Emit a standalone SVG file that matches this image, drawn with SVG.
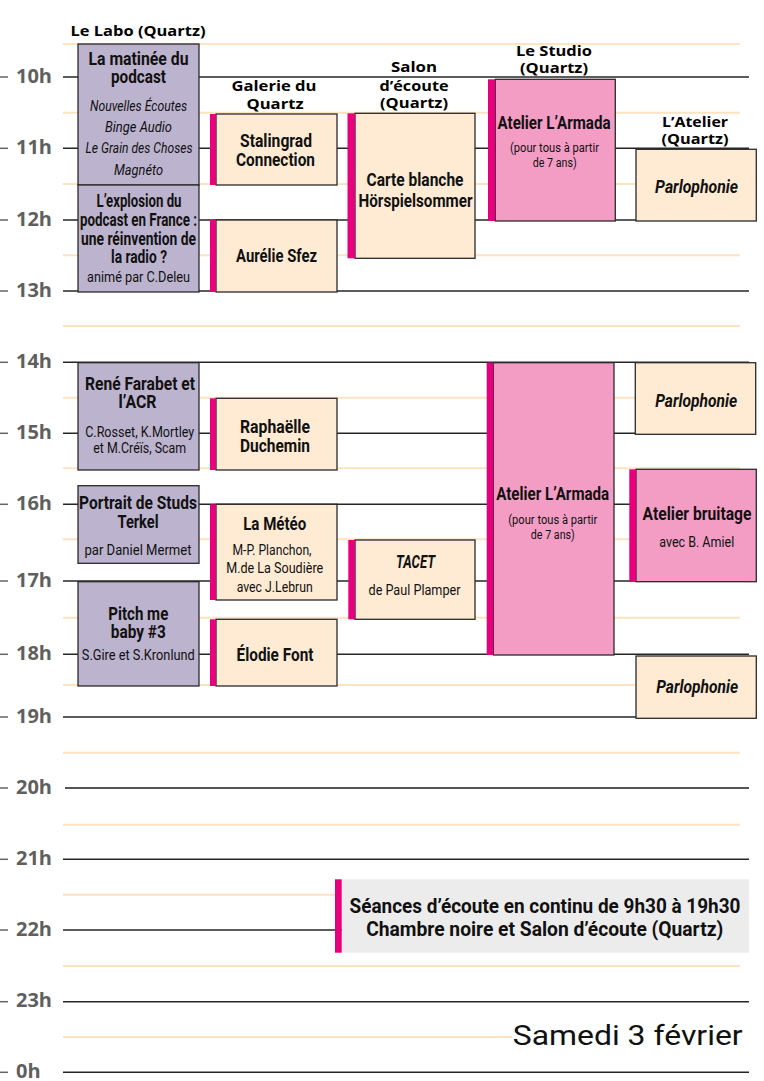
<svg xmlns="http://www.w3.org/2000/svg" width="764" height="1081" viewBox="0 0 764 1081">
<style>
.bg{fill:#fff}
.hl{stroke:#262626;stroke-width:1.4}
.hl2{stroke:#555;stroke-width:1.8}
.hh{stroke:#FDE3C2;stroke-width:2}
.tick{stroke:#666;stroke-width:1.5}
.hr{font-family:"Open Sans","DejaVu Sans",sans-serif;font-weight:bold;font-size:20px;fill:#5f5f5f}
.hdr{font-family:"Open Sans","DejaVu Sans",sans-serif;font-weight:bold;font-size:15px;fill:#000;text-anchor:middle}
.lav{fill:#BCB3CE;stroke:#2a2a2a;stroke-width:1.3}
.pch{fill:#FFEBD4;stroke:#2a2a2a;stroke-width:1.3}
.pnk{fill:#F39DC5;stroke:#2a2a2a;stroke-width:1.3}
.bar{fill:#E6007E}
.gry{fill:#ECECEC}
.t{font-family:Roboto,"Liberation Sans",sans-serif;text-anchor:middle;fill:#111}
.b{font-weight:bold;font-size:18px}
.bi{font-weight:bold;font-style:italic;font-size:18px}
.i{font-style:italic;font-size:15px}
.r{font-size:15px}
.s{font-size:12.5px}
.big{font-weight:bold;font-size:21px}
.date{font-family:Roboto,"Liberation Sans",sans-serif;font-size:28px;fill:#111}
</style>
<rect class="bg" x="0" y="0" width="764" height="1081"/>
<g id="grid">
<line class="hh" x1="63" y1="44" x2="740" y2="44"/>
<line class="hh" x1="63" y1="112.7" x2="740" y2="112.7"/>
<line class="hh" x1="63" y1="184" x2="740" y2="184"/>
<line class="hh" x1="63" y1="255.3" x2="740" y2="255.3"/>
<line class="hh" x1="63" y1="326" x2="740" y2="326"/>
<line class="hh" x1="63" y1="397.7" x2="740" y2="397.7"/>
<line class="hh" x1="63" y1="468.3" x2="740" y2="468.3"/>
<line class="hh" x1="63" y1="539.3" x2="740" y2="539.3"/>
<line class="hh" x1="63" y1="617.7" x2="740" y2="617.7"/>
<line class="hh" x1="63" y1="685" x2="740" y2="685"/>
<line class="hh" x1="63" y1="752.7" x2="740" y2="752.7"/>
<line class="hh" x1="63" y1="824.7" x2="740" y2="824.7"/>
<line class="hh" x1="63" y1="894.7" x2="740" y2="894.7"/>
<line class="hh" x1="63" y1="966" x2="740" y2="966"/>
<line class="hh" x1="63" y1="1037" x2="512" y2="1037"/>
<line class="hl" x1="63" y1="77" x2="749" y2="77"/>
<line class="hl" x1="63" y1="148.3" x2="749" y2="148.3"/>
<line class="hl" x1="63" y1="220" x2="749" y2="220"/>
<line class="hl" x1="63" y1="291" x2="749" y2="291"/>
<line class="hl" x1="63" y1="362.3" x2="749" y2="362.3"/>
<line class="hl" x1="63" y1="433.3" x2="749" y2="433.3"/>
<line class="hl" x1="63" y1="504.3" x2="749" y2="504.3"/>
<line class="hl" x1="63" y1="581" x2="749" y2="581"/>
<line class="hl" x1="63" y1="654.3" x2="749" y2="654.3"/>
<line class="hl" x1="63" y1="717" x2="749" y2="717"/>
<line class="hl2" x1="65" y1="788" x2="749" y2="788"/>
<line class="hl" x1="63" y1="859.3" x2="749" y2="859.3"/>
<line class="hl" x1="63" y1="930" x2="749" y2="930"/>
<line class="hl" x1="63" y1="1001.7" x2="749" y2="1001.7"/>
<line class="hl" x1="63" y1="1072.3" x2="749" y2="1072.3"/>
<line class="tick" x1="0" y1="77" x2="8" y2="77"/>
<line class="tick" x1="0" y1="148.3" x2="8" y2="148.3"/>
<line class="tick" x1="0" y1="220" x2="8" y2="220"/>
<line class="tick" x1="0" y1="291" x2="8" y2="291"/>
<line class="tick" x1="0" y1="362.3" x2="8" y2="362.3"/>
<line class="tick" x1="0" y1="433.3" x2="8" y2="433.3"/>
<line class="tick" x1="0" y1="504.3" x2="8" y2="504.3"/>
<line class="tick" x1="0" y1="581" x2="8" y2="581"/>
<line class="tick" x1="0" y1="654.3" x2="8" y2="654.3"/>
<line class="tick" x1="0" y1="717" x2="8" y2="717"/>
<line class="tick" x1="0" y1="788" x2="8" y2="788"/>
<line class="tick" x1="0" y1="859.3" x2="8" y2="859.3"/>
<line class="tick" x1="0" y1="930" x2="8" y2="930"/>
<line class="tick" x1="0" y1="1001.7" x2="8" y2="1001.7"/>
<line class="tick" x1="0" y1="1072.3" x2="8" y2="1072.3"/>
</g>
<g id="hours">
<text class="hr" x="16" y="82.5">10h</text>
<text class="hr" x="16" y="153.8">11h</text>
<text class="hr" x="16" y="225.5">12h</text>
<text class="hr" x="16" y="296.5">13h</text>
<text class="hr" x="16" y="367.8">14h</text>
<text class="hr" x="16" y="438.8">15h</text>
<text class="hr" x="16" y="509.8">16h</text>
<text class="hr" x="16" y="586.5">17h</text>
<text class="hr" x="16" y="659.8">18h</text>
<text class="hr" x="16" y="722.5">19h</text>
<text class="hr" x="16" y="793.5">20h</text>
<text class="hr" x="16" y="864.8">21h</text>
<text class="hr" x="16" y="935.5">22h</text>
<text class="hr" x="16" y="1007.2">23h</text>
<text class="hr" x="16" y="1077.5">0h</text>
</g>
<g id="headers">
<text class="hdr" x="138" y="36" textLength="135" lengthAdjust="spacingAndGlyphs">Le Labo (Quartz)</text>
<text class="hdr" x="274" y="91" textLength="85" lengthAdjust="spacingAndGlyphs">Galerie du</text>
<text class="hdr" x="275" y="108.5" textLength="57" lengthAdjust="spacingAndGlyphs">Quartz</text>
<text class="hdr" x="414" y="72" textLength="46" lengthAdjust="spacingAndGlyphs">Salon</text>
<text class="hdr" x="414" y="91" textLength="69" lengthAdjust="spacingAndGlyphs">d’écoute</text>
<text class="hdr" x="414" y="108" textLength="68" lengthAdjust="spacingAndGlyphs">(Quartz)</text>
<text class="hdr" x="554" y="56" textLength="76" lengthAdjust="spacingAndGlyphs">Le Studio</text>
<text class="hdr" x="554" y="73" textLength="68" lengthAdjust="spacingAndGlyphs">(Quartz)</text>
<text class="hdr" x="695" y="127" textLength="66" lengthAdjust="spacingAndGlyphs">L’Atelier</text>
<text class="hdr" x="695" y="143.5" textLength="67" lengthAdjust="spacingAndGlyphs">(Quartz)</text>
</g>
<g id="matinee">
<rect class="lav" x="78" y="44" width="121" height="141"/>
<text class="t b" x="138.5" y="65" textLength="100" lengthAdjust="spacingAndGlyphs">La matinée du</text>
<text class="t b" x="138.5" y="83.3" textLength="55" lengthAdjust="spacingAndGlyphs">podcast</text>
<text class="t i" x="138.5" y="110.7" textLength="97" lengthAdjust="spacingAndGlyphs">Nouvelles Écoutes</text>
<text class="t i" x="138.5" y="132" textLength="67" lengthAdjust="spacingAndGlyphs">Binge Audio</text>
<text class="t i" x="139" y="153" textLength="107" lengthAdjust="spacingAndGlyphs">Le Grain des Choses</text>
<text class="t i" x="138.5" y="175" textLength="49" lengthAdjust="spacingAndGlyphs">Magnéto</text>
</g>
<g id="explosion">
<rect class="lav" x="78" y="185" width="121" height="107"/>
<text class="t b" x="139" y="207" textLength="85" lengthAdjust="spacingAndGlyphs">L’explosion du</text>
<text class="t b" x="138.5" y="226" textLength="117" lengthAdjust="spacingAndGlyphs">podcast en France :</text>
<text class="t b" x="138.5" y="245" textLength="115" lengthAdjust="spacingAndGlyphs">une réinvention de</text>
<text class="t b" x="139" y="263.3" textLength="56" lengthAdjust="spacingAndGlyphs">la radio ?</text>
<text class="t r" x="138.5" y="281.7" textLength="103" lengthAdjust="spacingAndGlyphs">animé par C.Deleu</text>
</g>
<g id="stalingrad">
<rect class="pch" x="216" y="114" width="121" height="71"/>
<rect class="bar" x="210" y="114" width="6" height="71"/>
<text class="t b" x="276" y="147.3" textLength="72" lengthAdjust="spacingAndGlyphs">Stalingrad</text>
<text class="t b" x="275.5" y="165.7" textLength="79" lengthAdjust="spacingAndGlyphs">Connection</text>
</g>
<g id="sfez">
<rect class="pch" x="216" y="220" width="121" height="72"/>
<rect class="bar" x="210" y="220" width="6" height="72"/>
<text class="t b" x="276.5" y="261.7" textLength="81" lengthAdjust="spacingAndGlyphs">Aurélie Sfez</text>
</g>
<g id="carteblanche">
<rect class="pch" x="355" y="113.3" width="120" height="145"/>
<rect class="bar" x="347.5" y="113.3" width="7.5" height="145"/>
<text class="t b" x="415" y="186" textLength="97" lengthAdjust="spacingAndGlyphs">Carte blanche</text>
<text class="t b" x="415.5" y="206.7" textLength="114" lengthAdjust="spacingAndGlyphs">Hörspielsommer</text>
</g>
<g id="armada1">
<rect class="pnk" x="495.3" y="79.3" width="120" height="141.7"/>
<rect class="bar" x="488" y="79.3" width="7.3" height="141.7"/>
<text class="t b" x="554" y="129.3" textLength="113" lengthAdjust="spacingAndGlyphs">Atelier L’Armada</text>
<text class="t s" x="554.5" y="151.7" textLength="89" lengthAdjust="spacingAndGlyphs">(pour tous à partir</text>
<text class="t s" x="554.7" y="166.7" textLength="44" lengthAdjust="spacingAndGlyphs">de 7 ans)</text>
</g>
<g id="parlophonie1">
<rect class="pch" x="636" y="149.3" width="120.3" height="71.7"/>
<text class="t bi" x="696.6" y="192.7" textLength="83" lengthAdjust="spacingAndGlyphs">Parlophonie</text>
</g>
<g id="farabet">
<rect class="lav" x="78" y="362.7" width="121" height="107.3"/>
<text class="t b" x="140" y="390" textLength="110" lengthAdjust="spacingAndGlyphs">René Farabet et</text>
<text class="t b" x="137.5" y="408.3" textLength="38" lengthAdjust="spacingAndGlyphs">l’ACR</text>
<text class="t r" x="139.7" y="436.7" textLength="109" lengthAdjust="spacingAndGlyphs">C.Rosset, K.Mortley</text>
<text class="t r" x="139.7" y="453.3" textLength="93" lengthAdjust="spacingAndGlyphs">et M.Créïs, Scam</text>
</g>
<g id="duchemin">
<rect class="pch" x="216" y="398.3" width="121" height="71.7"/>
<rect class="bar" x="210" y="398.3" width="6" height="71.7"/>
<text class="t b" x="275" y="433.3" textLength="70" lengthAdjust="spacingAndGlyphs">Raphaëlle</text>
<text class="t b" x="275" y="452.3" textLength="70" lengthAdjust="spacingAndGlyphs">Duchemin</text>
</g>
<g id="studs">
<rect class="lav" x="78" y="485.7" width="121" height="77.6"/>
<text class="t b" x="138" y="509.3" textLength="118" lengthAdjust="spacingAndGlyphs">Portrait de Studs</text>
<text class="t b" x="138" y="528.3" textLength="41" lengthAdjust="spacingAndGlyphs">Terkel</text>
<text class="t r" x="138" y="555" textLength="107" lengthAdjust="spacingAndGlyphs">par Daniel Mermet</text>
</g>
<g id="meteo">
<rect class="pch" x="216" y="504.3" width="121" height="95.7"/>
<rect class="bar" x="210" y="504.3" width="6" height="95.7"/>
<text class="t b" x="274.7" y="530" textLength="63" lengthAdjust="spacingAndGlyphs">La Météo</text>
<text class="t r" x="272" y="555" textLength="79" lengthAdjust="spacingAndGlyphs">M-P. Planchon,</text>
<text class="t r" x="274.7" y="573.3" textLength="97" lengthAdjust="spacingAndGlyphs">M.de La Soudière</text>
<text class="t r" x="274.7" y="591.7" textLength="76" lengthAdjust="spacingAndGlyphs">avec J.Lebrun</text>
</g>
<g id="pitch">
<rect class="lav" x="78" y="581.7" width="121" height="104.3"/>
<text class="t b" x="138.3" y="620" textLength="60" lengthAdjust="spacingAndGlyphs">Pitch me</text>
<text class="t b" x="138.3" y="637.7" textLength="55" lengthAdjust="spacingAndGlyphs">baby #3</text>
<text class="t r" x="138.3" y="660" textLength="113" lengthAdjust="spacingAndGlyphs">S.Gire et S.Kronlund</text>
</g>
<g id="elodie">
<rect class="pch" x="216" y="619.3" width="121" height="66.7"/>
<rect class="bar" x="210" y="619.3" width="6" height="66.7"/>
<text class="t b" x="275" y="660.7" textLength="77" lengthAdjust="spacingAndGlyphs">Élodie Font</text>
</g>
<g id="tacet">
<rect class="pch" x="355" y="540" width="120" height="79.3"/>
<rect class="bar" x="348.3" y="540" width="6.7" height="79.3"/>
<text class="t bi" x="415.5" y="568.3" textLength="39" lengthAdjust="spacingAndGlyphs">TACET</text>
<text class="t r" x="414.5" y="595" textLength="92" lengthAdjust="spacingAndGlyphs">de Paul Plamper</text>
</g>
<g id="armada2">
<rect class="pnk" x="493.3" y="362.7" width="120.7" height="292.3"/>
<rect class="bar" x="486.7" y="362.7" width="6.6" height="292.3"/>
<text class="t b" x="552.7" y="500" textLength="113" lengthAdjust="spacingAndGlyphs">Atelier L’Armada</text>
<text class="t s" x="552.8" y="524" textLength="89" lengthAdjust="spacingAndGlyphs">(pour tous à partir</text>
<text class="t s" x="552.8" y="539.3" textLength="44" lengthAdjust="spacingAndGlyphs">de 7 ans)</text>
</g>
<g id="parlophonie2">
<rect class="pch" x="635.3" y="362.7" width="120.4" height="71.6"/>
<text class="t bi" x="696.2" y="406.7" textLength="82" lengthAdjust="spacingAndGlyphs">Parlophonie</text>
</g>
<g id="bruitage">
<rect class="pnk" x="636" y="469.3" width="120.3" height="112.4"/>
<rect class="bar" x="629.3" y="469.3" width="6.7" height="112.4"/>
<text class="t b" x="697" y="520" textLength="109" lengthAdjust="spacingAndGlyphs">Atelier bruitage</text>
<text class="t r" x="696.7" y="546.7" textLength="75" lengthAdjust="spacingAndGlyphs">avec B. Amiel</text>
</g>
<g id="parlophonie3">
<rect class="pch" x="636" y="656" width="120.3" height="62.3"/>
<text class="t bi" x="697.2" y="693.3" textLength="82" lengthAdjust="spacingAndGlyphs">Parlophonie</text>
</g>
<g id="seances">
<rect class="gry" x="341.7" y="879.3" width="407.3" height="73.4"/>
<rect class="bar" x="335" y="879.3" width="6.7" height="73.4"/>
<text class="t big" x="545" y="913.3" textLength="391" lengthAdjust="spacingAndGlyphs">Séances d’écoute en continu de 9h30 à 19h30</text>
<text class="t big" x="544.7" y="935.5" textLength="357" lengthAdjust="spacingAndGlyphs">Chambre noire et Salon d’écoute (Quartz)</text>
</g>
<g id="title">
<text class="date" x="512.7" y="1045" textLength="230" lengthAdjust="spacingAndGlyphs">Samedi 3 février</text>
</g>
</svg>
